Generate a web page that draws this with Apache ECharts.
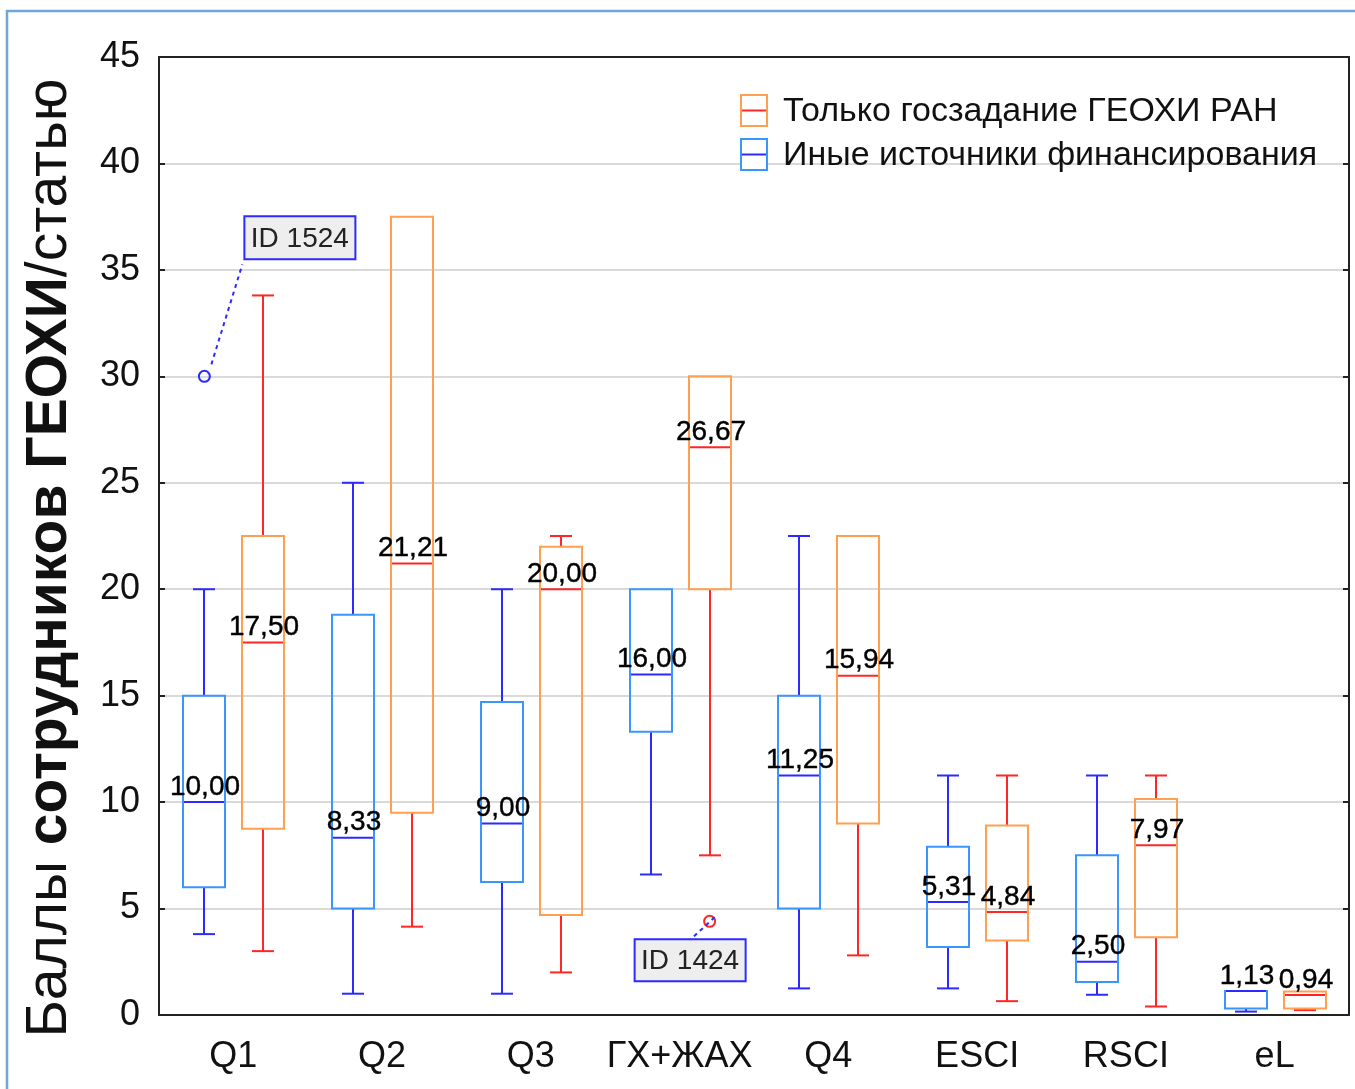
<!DOCTYPE html>
<html><head><meta charset="utf-8">
<script src="https://cdn.jsdelivr.net/npm/echarts@6/dist/echarts.min.js"></script>
<style>html,body{margin:0;padding:0;background:#fff}#c{width:1355px;height:1089px}</style>
</head><body><div id="c"></div>
<script>
// ---------- DATA ----------
const categories = ['Q1', 'Q2', 'Q3', 'ГХ+ЖАХ', 'Q4', 'ESCI', 'RSCI', 'eL'];
const seriesNames = ['Только госзадание ГЕОХИ РАН', 'Иные источники финансирования'];
// each row: [min, q1, median, q3, max]
const otherFunding = [
  [3.8, 6.0, 10.00, 15.0, 20.0],
  [1.0, 5.0, 8.33, 18.8, 25.0],
  [1.0, 6.25, 9.00, 14.7, 20.0],
  [6.6, 13.3, 16.00, 20.0, 20.0],
  [1.25, 5.0, 11.25, 15.0, 22.5],
  [1.25, 3.2, 5.31, 7.9, 11.25],
  [0.95, 1.55, 2.50, 7.5, 11.25],
  [0.16, 0.31, 1.13, 1.13, 1.13]
];
const stateOnly = [
  [3.0, 8.75, 17.50, 22.5, 33.8],
  [4.15, 9.5, 21.21, 37.5, 37.5],
  [2.0, 4.7, 20.00, 22.0, 22.5],
  [7.5, 20.0, 26.67, 30.0, 30.0],
  [2.8, 9.0, 15.94, 22.5, 22.5],
  [0.65, 3.5, 4.84, 8.9, 11.25],
  [0.4, 3.65, 7.97, 10.15, 11.25],
  [0.23, 0.31, 0.94, 1.1, 1.1]
];
const outlierCats = ['Q1', 'ГХ+ЖАХ'];
const outlierValues = [30.0, 4.4];
const outlierGroup = ['other', 'state'];
const outlierLabels = ['ID 1524', 'ID 1424'];
const yMin = 0, yMax = 45, yStep = 5;

// ---------- STYLE ----------
const FONT = '"Liberation Sans", Arial, sans-serif';
const BLUE_BOX = '#3a96ff', BLUE_LINE = '#2b2bff';
const ORANGE_BOX = '#ffa050', RED_LINE = '#ff2626';
const fmt = v => v.toFixed(2).replace('.', ',');

function boxRender(offset, boxColor, lineColor) {
  return function (params, api) {
    const ci = api.value(0);
    const cx = Math.round(api.coord([ci, 0])[0] + offset);
    const y = k => api.coord([ci, api.value(k)])[1];
    const vMin = api.value(1), vQ1 = api.value(2), vMed = api.value(3), vQ3 = api.value(4), vMax = api.value(5);
    const yLo = y(1), yQ1 = y(2), yMed = y(3), yQ3 = y(4), yHi = y(5);
    const half = 21, cap = 11;
    const ls = { stroke: lineColor, lineWidth: 2 };
    const ch = [];
    if (vMax > vQ3) {
      ch.push({ type: 'line', shape: { x1: cx, y1: yQ3, x2: cx, y2: yHi }, style: ls });
      ch.push({ type: 'line', shape: { x1: cx - cap, y1: yHi, x2: cx + cap, y2: yHi }, style: ls });
    }
    if (vMin < vQ1) {
      ch.push({ type: 'line', shape: { x1: cx, y1: yQ1, x2: cx, y2: yLo }, style: ls });
      ch.push({ type: 'line', shape: { x1: cx - cap, y1: yLo, x2: cx + cap, y2: yLo }, style: ls });
    }
    ch.push({ type: 'rect', shape: { x: cx - half, y: yQ3, width: half * 2, height: Math.max(yQ1 - yQ3, 1) },
      style: { fill: 'none', stroke: boxColor, lineWidth: 2 } });
    ch.push({ type: 'line', shape: { x1: cx - half + 1, y1: yMed, x2: cx + half - 1, y2: yMed }, style: ls });
    ch.push({ type: 'text', z2: 10, style: { text: fmt(vMed), x: cx + 1, y: yMed - 1, align: 'center', verticalAlign: 'bottom',
      font: '28px ' + FONT, fill: '#000', stroke: '#000', lineWidth: 0.4 } });
    return { type: 'group', children: ch };
  };
}

const annoLayout = {
  'ID 1524': { line: [[7, -12], [38, -112]], box: [40, -160, 111, 43] },
  'ID 1424': { line: [[5, -4], [-19, 18]], box: [-75, 18, 111, 42] }
};

function outlierRender(params, api) {
  const i = params.dataIndex;
  const ci = api.value(0);
  const off = outlierGroup[i] === 'other' ? -29 : 30;
  const p = api.coord([ci, api.value(1)]);
  const cx = p[0] + off, cy = p[1];
  const lab = outlierLabels[i];
  const L = annoLayout[lab];
  const col = outlierGroup[i] === 'other' ? BLUE_LINE : RED_LINE;
  return { type: 'group', children: [
    { type: 'circle', shape: { cx: cx, cy: cy, r: 5.5 }, style: { fill: 'none', stroke: col, lineWidth: 2 } },
    { type: 'line', shape: { x1: cx + L.line[0][0], y1: cy + L.line[0][1], x2: cx + L.line[1][0], y2: cy + L.line[1][1] },
      style: { stroke: BLUE_LINE, lineWidth: 2, lineDash: [4, 4] } },
    { type: 'rect', shape: { x: cx + L.box[0], y: cy + L.box[1], width: L.box[2], height: L.box[3] },
      style: { fill: '#eeeeee', stroke: BLUE_LINE, lineWidth: 2 } },
    { type: 'text', style: { text: lab, x: cx + L.box[0] + L.box[2] / 2, y: cy + L.box[1] + L.box[3] / 2 + 1,
      align: 'center', verticalAlign: 'middle', font: '28px ' + FONT, fill: '#222' } }
  ] };
}

const axisLineStyle = { color: '#222', width: 2 };
const chart = echarts.init(document.getElementById('c'), null, { renderer: 'canvas' });
const option = {
  animation: false,
  backgroundColor: '#fff',
  grid: { left: 159, right: 6, top: 57, bottom: 74 },
  xAxis: [
    { type: 'category', data: categories, boundaryGap: true,
      axisLine: { onZero: false, lineStyle: axisLineStyle },
      axisTick: { inside: true, alignWithLabel: true, length: 6, lineStyle: axisLineStyle },
      axisLabel: { interval: 0, fontSize: 36, color: '#111', margin: 24, fontFamily: FONT },
      splitLine: { show: false } },
    { type: 'category', data: categories, boundaryGap: true, position: 'top',
      axisLine: { onZero: false, lineStyle: axisLineStyle },
      axisTick: { inside: true, alignWithLabel: true, length: 6, lineStyle: axisLineStyle },
      axisLabel: { show: false }, splitLine: { show: false } }
  ],
  yAxis: [
    { type: 'value', min: yMin, max: yMax, interval: yStep,
      axisLine: { show: true, onZero: false, lineStyle: axisLineStyle },
      axisTick: { show: true, inside: true, length: 6, lineStyle: axisLineStyle },
      axisLabel: { fontSize: 36, color: '#111', margin: 19, fontFamily: FONT },
      splitLine: { show: true, lineStyle: { color: '#d9d9d9', width: 2 } },
      name: '{r|Баллы }{b|сотрудников ГЕОХИ}{r|/статью}',
      nameLocation: 'middle', nameRotate: 90, nameGap: 80,
      nameTextStyle: { padding: [0, 44, 0, 0],
        rich: { r: { fontSize: 57, fontFamily: FONT, color: '#111' },
                b: { fontSize: 57, fontFamily: FONT, fontWeight: 'bold', color: '#111' } } } },
    { type: 'value', min: yMin, max: yMax, interval: yStep, position: 'right',
      axisLine: { show: true, onZero: false, lineStyle: axisLineStyle },
      axisTick: { show: true, inside: true, length: 6, lineStyle: axisLineStyle },
      axisLabel: { show: false }, splitLine: { show: false } }
  ],
  series: [
    { type: 'custom', name: seriesNames[1], renderItem: boxRender(-29, BLUE_BOX, BLUE_LINE),
      encode: { x: 0, y: [1, 2, 3, 4, 5] }, z: 3,
      data: otherFunding.map((d, i) => [i].concat(d)) },
    { type: 'custom', name: seriesNames[0], renderItem: boxRender(30, ORANGE_BOX, RED_LINE),
      encode: { x: 0, y: [1, 2, 3, 4, 5] }, z: 3,
      data: stateOnly.map((d, i) => [i].concat(d)) },
    { type: 'custom', name: 'outliers', renderItem: outlierRender, encode: { x: 0, y: 1 }, z: 4,
      data: outlierCats.map((c, i) => [categories.indexOf(c), outlierValues[i]]) }
  ],
  graphic: [
    { type: 'rect', z: 10, shape: { x: 7, y: 11, width: 1400, height: 1100 }, style: { fill: 'none', stroke: '#6fa6dc', lineWidth: 2.5 }, silent: true },
    { type: 'rect', z: 10, shape: { x: 741, y: 95, width: 26, height: 31 }, style: { fill: '#fff', stroke: ORANGE_BOX, lineWidth: 2 } },
    { type: 'line', z: 10, shape: { x1: 742, y1: 110.5, x2: 766, y2: 110.5 }, style: { stroke: RED_LINE, lineWidth: 2 } },
    { type: 'text', z: 10, style: { text: seriesNames[0], x: 783, y: 112, verticalAlign: 'middle', font: '34px ' + FONT, fill: '#111' } },
    { type: 'rect', z: 10, shape: { x: 741, y: 139, width: 26, height: 31 }, style: { fill: '#fff', stroke: BLUE_BOX, lineWidth: 2 } },
    { type: 'line', z: 10, shape: { x1: 742, y1: 154.5, x2: 766, y2: 154.5 }, style: { stroke: BLUE_LINE, lineWidth: 2 } },
    { type: 'text', z: 10, style: { text: seriesNames[1], x: 783, y: 156, verticalAlign: 'middle', font: '34px ' + FONT, fill: '#111' } }
  ]
};
chart.setOption(option);
</script></body></html>
